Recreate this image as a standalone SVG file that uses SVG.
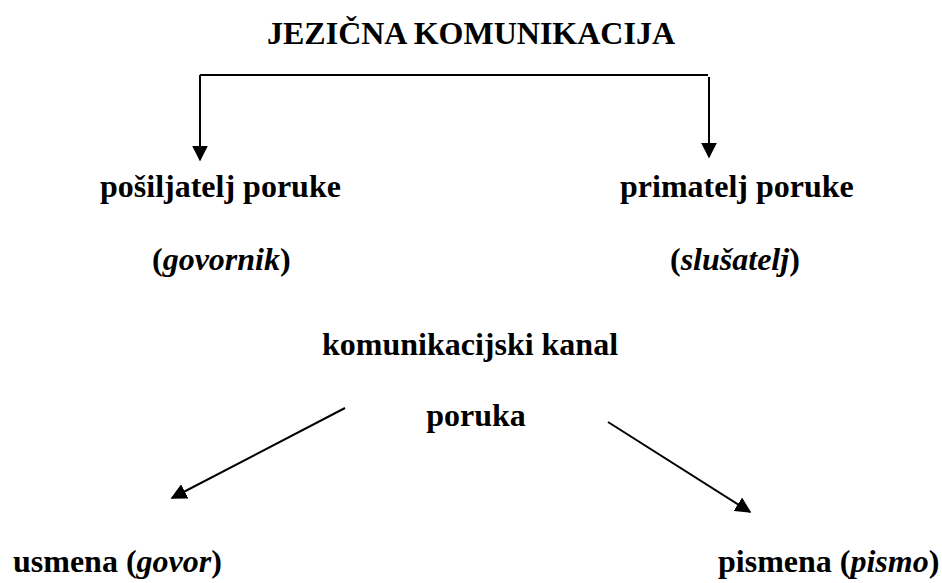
<svg xmlns="http://www.w3.org/2000/svg" width="942" height="583" viewBox="0 0 942 583">
<style>
text{font-family:"Liberation Serif","Times New Roman",serif;font-size:32px;font-weight:bold;fill:#000}
.c{stroke:#000;stroke-width:2;fill:none}
</style>
<defs>
<marker id="ah" viewBox="0 0 10 10" refX="9" refY="5" markerWidth="8" markerHeight="8" markerUnits="strokeWidth" orient="auto">
<path d="M0,0 L10,5 L0,10 z" fill="#000"/>
</marker>
</defs>
<rect width="942" height="583" fill="#fff"/>
<g id="title"><text x="471" y="44" text-anchor="middle">JEZIČNA KOMUNIKACIJA</text></g>
<g id="sender"><text x="100" y="197">pošiljatelj poruke</text></g>
<g id="receiver"><text x="620" y="197">primatelj poruke</text></g>
<g id="speaker"><text x="152" y="270">(<tspan font-style="italic">govornik</tspan>)</text></g>
<g id="listener"><text x="670" y="270">(<tspan font-style="italic">slušatelj</tspan>)</text></g>
<g id="channel"><text x="470" y="355" text-anchor="middle">komunikacijski kanal</text></g>
<g id="message"><text x="476" y="426" text-anchor="middle">poruka</text></g>
<g id="oral"><text x="13" y="572">usmena (<tspan font-style="italic">govor</tspan>)</text></g>
<g id="written"><text x="718" y="572">pismena (<tspan font-style="italic">pismo</tspan>)</text></g>
<g id="connectors">
<path class="c" d="M200,75 H708"/>
<path class="c" d="M200,75 V160" marker-end="url(#ah)"/>
<path class="c" d="M709,77 V157" marker-end="url(#ah)"/>
<path class="c" d="M345,408 L172,498" marker-end="url(#ah)"/>
<path class="c" d="M608,422 L750,512" marker-end="url(#ah)"/>
</g>
</svg>
